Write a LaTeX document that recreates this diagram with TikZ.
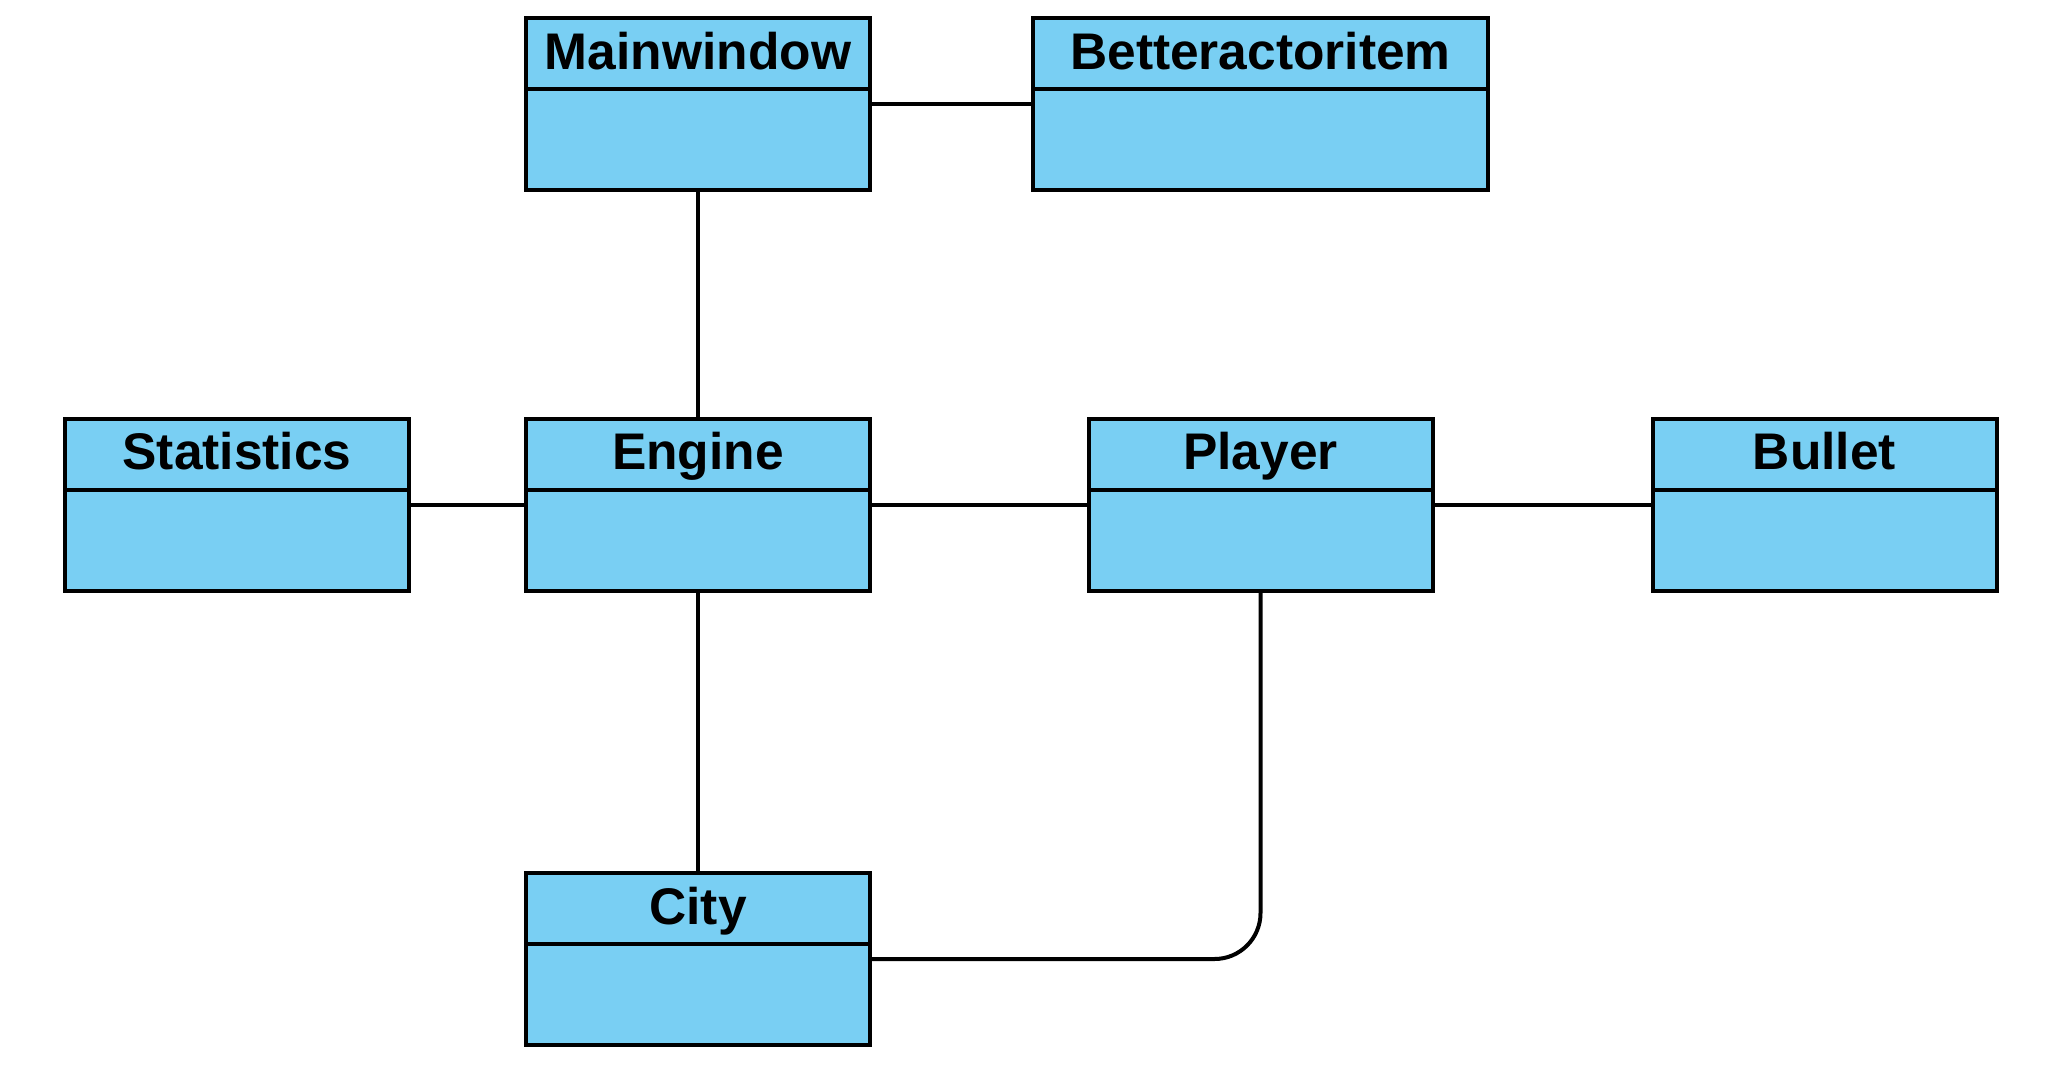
\documentclass[tikz,border=0pt]{standalone}
\usepackage{fontspec}
\setmainfont{Liberation Sans}
\definecolor{clsblue}{HTML}{79CFF3}

\begin{document}
\begin{tikzpicture}[x = 1pt, y = -1pt, line width = 4pt,
                        cls/.style = {rectangle, draw, fill = clsblue, outer sep = 0pt, inner sep = 0pt,
                                      minimum width = #1, minimum height = 172pt,
                                      path picture = {\draw ([yshift=-71pt]path picture bounding box.north west)
                                                       -- ([yshift=-71pt]path picture bounding box.north east);}},
                        cls/.default = 344pt,
                        nm/.style = {anchor = base, yshift = -51pt, inner sep = 0pt,
                                     font = \fontsize{51.5}{60}\selectfont\bfseries}]
    \useasboundingbox (0, 0) rectangle (2047, 1068);
    \node [cls] (mainw) at (698, 104) [label = {[nm]north:Mainwindow}] {};
    \node [cls = 455pt] (better) at (1260.5, 104) [label = {[nm]north:Betteractoritem}] {};
    \node [cls] (stats) at (237, 504.5) [label = {[nm]north:Statistics}] {};
    \node [cls] (engine) at (698, 504.5) [label = {[nm]north:Engine}] {};
    \node [cls] (player) at (1260.5, 504.5) [label = {[nm]north:Player}] {};
    \node [cls] (bullet) at (1824.5, 504.5) [label = {[nm]north:Bullet}] {};
    \node [cls] (city) at (698, 959) [label = {[nm]north:City}] {};
    \draw (mainw) -- (better);
    \draw (mainw) -- (engine);
    \draw (stats) -- (engine);
    \draw (engine) -- (player);
    \draw (player) -- (bullet);
    \draw (engine) -- (city);
    \draw [rounded corners = 46pt] (player.south) |- (city.east);
  \end{tikzpicture}
\end{document}
